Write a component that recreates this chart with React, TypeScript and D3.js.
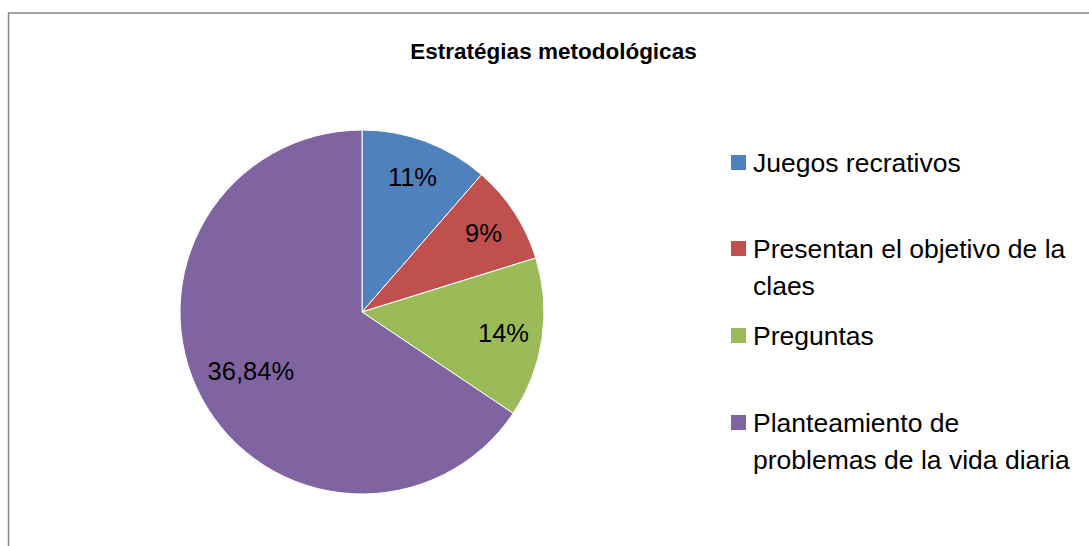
import React from "react";
import * as d3 from "d3";

const categories = [
  "Juegos recrativos",
  "Presentan el objetivo de la claes",
  "Preguntas",
  "Planteamiento de problemas de la vida diaria",
];
const legendLines = [
  ["Juegos recrativos"],
  ["Presentan el objetivo de la", "claes"],
  ["Preguntas"],
  ["Planteamiento de", "problemas de la vida diaria"],
];
const values = [11.4, 8.8, 14.2, 65.6];
const dataLabels = ["11%", "9%", "14%", "36,84%"];
const colors = ["#4F81BD", "#C0504D", "#9BBB59", "#8064A2"];
const title = "Estratégias metodológicas";

const W = 1089;
const H = 546;
const cx = 362;
const cy = 312;
const R = 182;
const labelR = [144, 145, 143, 126];
const legendY = [163, 249, 336, 423];
const font = "'Liberation Sans', Arial, sans-serif";

export default function App() {
  const pie = d3.pie<number>().sort(null).value((d) => d);
  const arcs = pie(values);
  const arc = d3.arc<d3.PieArcDatum<number>>().innerRadius(0).outerRadius(R);

  return (
    <svg
      width={W}
      height={H}
      style={{ position: "absolute", left: 0, top: 0, background: "#fff" }}
    >
      <rect x={0} y={0} width={W} height={H} fill="#fff" />
      <line x1={8.5} y1={13} x2={8.5} y2={H} stroke="#868686" strokeWidth={1.5} />
      <line x1={8} y1={13} x2={W} y2={13} stroke="#868686" strokeWidth={1.5} />
      <text
        x={553.5}
        y={59}
        textAnchor="middle"
        fontFamily={font}
        fontWeight="bold"
        fontSize={22.5}
        fill="#000"
      >
        {title}
      </text>
      <g transform={`translate(${cx},${cy})`}>
        {arcs.map((a, i) => (
          <path key={i} d={arc(a) || ""} fill={colors[i]} stroke="#fff" strokeWidth={1} />
        ))}
        {arcs.map((a, i) => {
          const la = d3.arc<d3.PieArcDatum<number>>().innerRadius(labelR[i]).outerRadius(labelR[i]);
          const [x, y] = la.centroid(a);
          return (
            <text
              key={"l" + i}
              x={x}
              y={y}
              dy="0.36em"
              textAnchor="middle"
              fontFamily={font}
              fontSize={25.5}
              fill="#000"
            >
              {dataLabels[i]}
            </text>
          );
        })}
      </g>
      {categories.map((c, i) => (
        <g key={c}>
          <rect x={731} y={legendY[i] - 8} width={15} height={15} fill={colors[i]} />
          {legendLines[i].map((ln, j) => (
            <text
              key={j}
              x={753}
              y={legendY[i] + j * 37}
              dy="0.35em"
              fontFamily={font}
              fontSize={26.5}
              fill="#000"
            >
              {ln}
            </text>
          ))}
        </g>
      ))}
    </svg>
  );
}
